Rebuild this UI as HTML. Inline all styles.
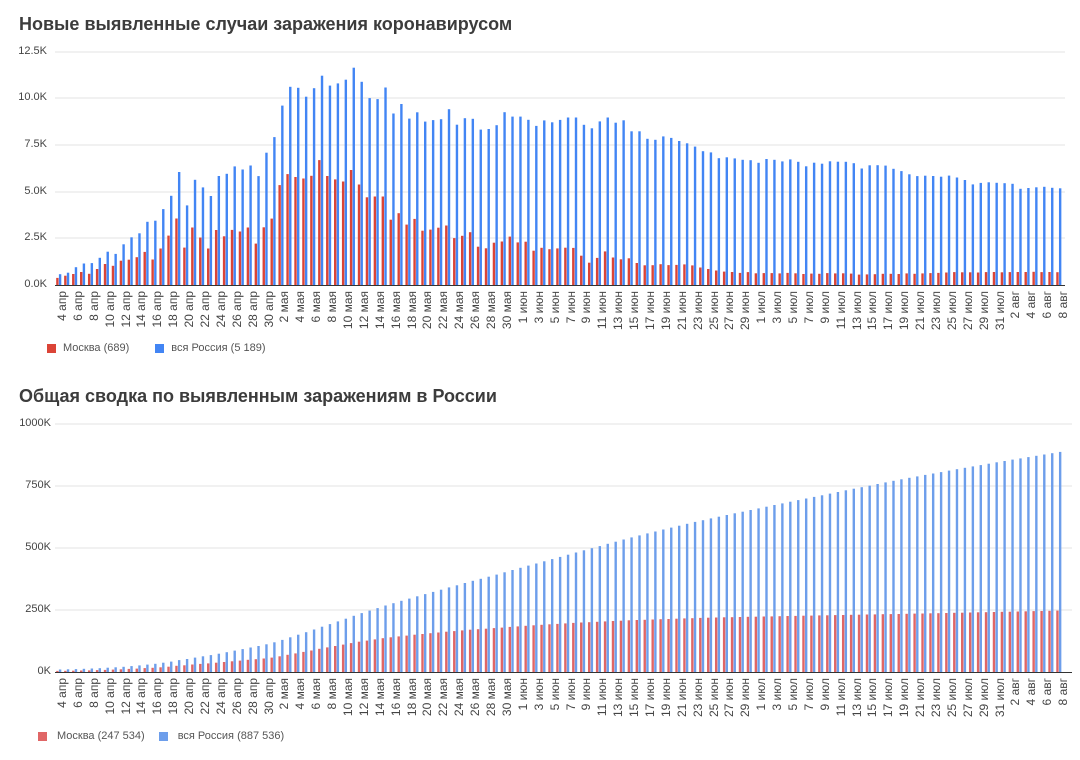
<!DOCTYPE html>
<html><head><meta charset="utf-8"><style>
body{margin:0;background:#fff;width:1080px;height:760px;overflow:hidden;font-family:"Liberation Sans",Arial,sans-serif;position:relative}
.t{position:absolute;left:19px;font-weight:bold;font-size:18px;color:#3c3c3c}
.yl{position:absolute;font-size:11px;color:#444;text-align:right;width:40px}
.xl{position:absolute;display:flex;left:55px}
.xl div{width:15.9px;flex:none;position:relative;height:40px}
.xl span{position:absolute;left:1px;top:0;writing-mode:vertical-rl;transform:rotate(180deg);font-size:12px;color:#444;white-space:nowrap;line-height:13px}
.lg{position:absolute;font-size:11px;color:#555;display:flex;align-items:center}
.sq{width:9px;height:9px;display:inline-block;margin-right:7px}
svg{position:absolute;left:0;top:0}
</style></head><body>
<svg width="1080" height="760" id="s"></svg>
<div class="t" style="top:14px">Новые выявленные случаи заражения коронавирусом</div>
<div class="t" style="top:386px">Общая сводка по выявленным заражениям в России</div>

<div class="yl" style="left:7px;top:45px">12.5K</div>
<div class="yl" style="left:7px;top:91px">10.0K</div>
<div class="yl" style="left:7px;top:138px">7.5K</div>
<div class="yl" style="left:7px;top:185px">5.0K</div>
<div class="yl" style="left:7px;top:231px">2.5K</div>
<div class="yl" style="left:7px;top:278px">0.0K</div>

<div class="yl" style="left:11px;top:417px">1000K</div>
<div class="yl" style="left:11px;top:479px">750K</div>
<div class="yl" style="left:11px;top:541px">500K</div>
<div class="yl" style="left:11px;top:603px">250K</div>
<div class="yl" style="left:11px;top:665px">0K</div>

<div class="xl" style="top:291px"><div><span>4 апр</span></div><div><span>6 апр</span></div><div><span>8 апр</span></div><div><span>10 апр</span></div><div><span>12 апр</span></div><div><span>14 апр</span></div><div><span>16 апр</span></div><div><span>18 апр</span></div><div><span>20 апр</span></div><div><span>22 апр</span></div><div><span>24 апр</span></div><div><span>26 апр</span></div><div><span>28 апр</span></div><div><span>30 апр</span></div><div><span>2 мая</span></div><div><span>4 мая</span></div><div><span>6 мая</span></div><div><span>8 мая</span></div><div><span>10 мая</span></div><div><span>12 мая</span></div><div><span>14 мая</span></div><div><span>16 мая</span></div><div><span>18 мая</span></div><div><span>20 мая</span></div><div><span>22 мая</span></div><div><span>24 мая</span></div><div><span>26 мая</span></div><div><span>28 мая</span></div><div><span>30 мая</span></div><div><span>1 июн</span></div><div><span>3 июн</span></div><div><span>5 июн</span></div><div><span>7 июн</span></div><div><span>9 июн</span></div><div><span>11 июн</span></div><div><span>13 июн</span></div><div><span>15 июн</span></div><div><span>17 июн</span></div><div><span>19 июн</span></div><div><span>21 июн</span></div><div><span>23 июн</span></div><div><span>25 июн</span></div><div><span>27 июн</span></div><div><span>29 июн</span></div><div><span>1 июл</span></div><div><span>3 июл</span></div><div><span>5 июл</span></div><div><span>7 июл</span></div><div><span>9 июл</span></div><div><span>11 июл</span></div><div><span>13 июл</span></div><div><span>15 июл</span></div><div><span>17 июл</span></div><div><span>19 июл</span></div><div><span>21 июл</span></div><div><span>23 июл</span></div><div><span>25 июл</span></div><div><span>27 июл</span></div><div><span>29 июл</span></div><div><span>31 июл</span></div><div><span>2 авг</span></div><div><span>4 авг</span></div><div><span>6 авг</span></div><div><span>8 авг</span></div></div>

<div class="xl" style="top:678px"><div><span>4 апр</span></div><div><span>6 апр</span></div><div><span>8 апр</span></div><div><span>10 апр</span></div><div><span>12 апр</span></div><div><span>14 апр</span></div><div><span>16 апр</span></div><div><span>18 апр</span></div><div><span>20 апр</span></div><div><span>22 апр</span></div><div><span>24 апр</span></div><div><span>26 апр</span></div><div><span>28 апр</span></div><div><span>30 апр</span></div><div><span>2 мая</span></div><div><span>4 мая</span></div><div><span>6 мая</span></div><div><span>8 мая</span></div><div><span>10 мая</span></div><div><span>12 мая</span></div><div><span>14 мая</span></div><div><span>16 мая</span></div><div><span>18 мая</span></div><div><span>20 мая</span></div><div><span>22 мая</span></div><div><span>24 мая</span></div><div><span>26 мая</span></div><div><span>28 мая</span></div><div><span>30 мая</span></div><div><span>1 июн</span></div><div><span>3 июн</span></div><div><span>5 июн</span></div><div><span>7 июн</span></div><div><span>9 июн</span></div><div><span>11 июн</span></div><div><span>13 июн</span></div><div><span>15 июн</span></div><div><span>17 июн</span></div><div><span>19 июн</span></div><div><span>21 июн</span></div><div><span>23 июн</span></div><div><span>25 июн</span></div><div><span>27 июн</span></div><div><span>29 июн</span></div><div><span>1 июл</span></div><div><span>3 июл</span></div><div><span>5 июл</span></div><div><span>7 июл</span></div><div><span>9 июл</span></div><div><span>11 июл</span></div><div><span>13 июл</span></div><div><span>15 июл</span></div><div><span>17 июл</span></div><div><span>19 июл</span></div><div><span>21 июл</span></div><div><span>23 июл</span></div><div><span>25 июл</span></div><div><span>27 июл</span></div><div><span>29 июл</span></div><div><span>31 июл</span></div><div><span>2 авг</span></div><div><span>4 авг</span></div><div><span>6 авг</span></div><div><span>8 авг</span></div></div>

<div class="lg" style="left:47px;top:342px"><span class="sq" style="background:#db4437"></span>Москва (689)<span class="sq" style="background:#4285f4;margin-left:26px"></span>вся Россия (5 189)</div>
<div class="lg" style="left:38px;top:730px"><span class="sq" style="background:#e06666;margin-right:10px"></span>Москва (247 534)<span class="sq" style="background:#6d9eeb;margin-left:14px;margin-right:10px"></span>вся Россия (887 536)</div>

<script>
var R=[582,658,954,1154,1175,1459,1786,1667,2186,2558,2774,3388,3448,4070,4785,6060,4268,5642,5236,4774,5849,5966,6361,6198,6411,5841,7099,7933,9623,10633,10581,10102,10559,11231,10699,10817,11012,11656,10899,10028,9974,10598,9200,9709,8926,9263,8764,8849,8894,9434,8599,8946,8915,8338,8371,8572,9268,9035,9035,8863,8536,8831,8726,8855,8984,8985,8595,8404,8779,8987,8706,8835,8246,8248,7843,7790,7972,7889,7728,7600,7425,7176,7113,6800,6852,6791,6719,6693,6556,6760,6718,6632,6736,6611,6368,6562,6509,6635,6615,6611,6537,6248,6422,6428,6406,6234,6109,5940,5842,5862,5848,5811,5871,5765,5635,5395,5475,5509,5482,5462,5427,5159,5204,5241,5267,5212,5189];
var M=[380,500,590,700,600,860,1124,1030,1306,1355,1489,1774,1370,1959,2649,3570,2004,3083,2548,1959,2948,2612,2957,2871,3083,2220,3093,3561,5358,5948,5795,5714,5858,6703,5846,5667,5551,6169,5392,4703,4748,4748,3505,3853,3238,3545,2913,2974,3074,3190,2516,2638,2830,2054,1969,2270,2332,2595,2286,2325,1842,1998,1921,1962,2001,1988,1572,1195,1453,1803,1477,1379,1435,1179,1057,1060,1114,1068,1076,1107,1050,940,860,780,720,700,650,690,630,640,640,620,650,630,590,610,600,640,620,630,610,560,570,580,600,600,590,620,600,620,640,650,670,690,680,680,670,690,700,680,690,700,700,710,690,700,689];
var n=R.length,s=document.getElementById('s'),h='';
var x0=55,x1=1063,sl=(x1-x0)/n;
[52,98,145,192,238].forEach(function(y){h+='<line x1="55" x2="1065" y1="'+y+'" y2="'+y+'" stroke="#e3e3e3"/>'});
[424,486,548,610].forEach(function(y){h+='<line x1="55" x2="1072" y1="'+y+'" y2="'+y+'" stroke="#e3e3e3"/>'});
for(var i=0;i<n;i++){var x=x0+i*sl;
 var hm=M[i]*233/12500,hr=R[i]*233/12500;
 h+='<rect x="'+(x+1.2).toFixed(2)+'" y="'+(285-hm).toFixed(1)+'" width="2.4" height="'+hm.toFixed(1)+'" fill="#db4437"/>';
 h+='<rect x="'+(x+3.9).toFixed(2)+'" y="'+(285-hr).toFixed(1)+'" width="2.4" height="'+hr.toFixed(1)+'" fill="#4285f4"/>';}
var cr=887536,cm=247534,CR=[],CM=[];
for(var i=n-1;i>=0;i--){CR[i]=cr;CM[i]=cm;cr-=R[i];cm-=M[i];}
for(var i=0;i<n;i++){var x=x0+i*sl;
 var hm=CM[i]*248/1e6,hr=CR[i]*248/1e6;
 h+='<rect x="'+(x+1.2).toFixed(2)+'" y="'+(672-hm).toFixed(1)+'" width="2.4" height="'+hm.toFixed(1)+'" fill="#e06666"/>';
 h+='<rect x="'+(x+3.9).toFixed(2)+'" y="'+(672-hr).toFixed(1)+'" width="2.4" height="'+hr.toFixed(1)+'" fill="#6d9eeb"/>';}
h+='<line x1="55" x2="1065" y1="285.5" y2="285.5" stroke="#333"/>';
h+='<line x1="55" x2="1072" y1="672.5" y2="672.5" stroke="#333"/>';
s.innerHTML=h;
</script>
</body></html>
